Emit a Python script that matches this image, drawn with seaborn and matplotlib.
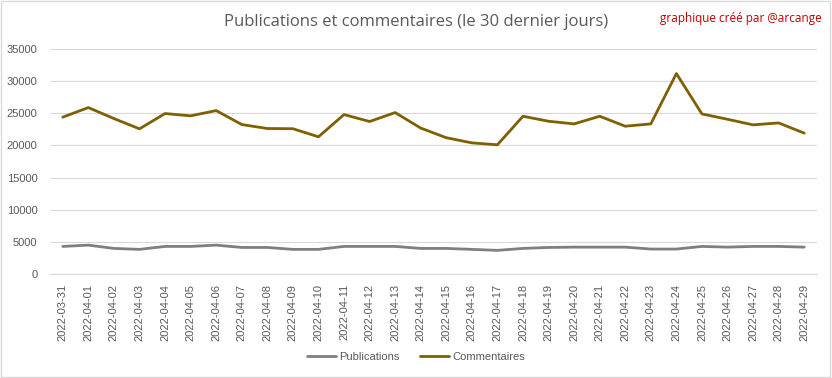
# Publications et commentaires sur 30 jours - line chart
import pandas as pd
import matplotlib.pyplot as plt
import seaborn as sns
from matplotlib.patches import Rectangle

# data
dates = ['2022-03-31', '2022-04-01', '2022-04-02', '2022-04-03', '2022-04-04', '2022-04-05',
         '2022-04-06', '2022-04-07', '2022-04-08', '2022-04-09', '2022-04-10', '2022-04-11',
         '2022-04-12', '2022-04-13', '2022-04-14', '2022-04-15', '2022-04-16', '2022-04-17',
         '2022-04-18', '2022-04-19', '2022-04-20', '2022-04-21', '2022-04-22', '2022-04-23',
         '2022-04-24', '2022-04-25', '2022-04-26', '2022-04-27', '2022-04-28', '2022-04-29']

publications = [4290, 4490, 3980, 3830, 4290, 4290, 4490, 4130, 4130, 3830,
                3830, 4290, 4290, 4290, 3980, 3980, 3830, 3680, 3980, 4130,
                4180, 4180, 4180, 3880, 3880, 4290, 4180, 4290, 4290, 4180]

commentaires = [24400, 25890, 24180, 22580, 24960, 24600, 25420, 23250, 22630, 22600,
                21340, 24800, 23720, 25110, 22700, 21200, 20400, 20100, 24540, 23760,
                23350, 24540, 22990, 23350, 31180, 24900, 24070, 23200, 23500, 21910]

yticks = [0, 5000, 10000, 15000, 20000, 25000, 30000, 35000]

# long format for seaborn
df = pd.DataFrame({'date': dates, 'Publications': publications, 'Commentaires': commentaires})
df_long = df.melt(id_vars='date', var_name='serie', value_name='valeur')

sns.set_style('white')
plt.rcParams['font.family'] = ['Liberation Sans', 'DejaVu Sans']

fig = plt.figure(figsize=(8.32, 3.78), dpi=100)
ax = fig.add_axes([50 / 832, 1 - 274 / 378, 767 / 832, 225 / 378])

sns.lineplot(data=df_long, x='date', y='valeur', hue='serie', sort=False,
             palette={'Publications': '#7f7f7f', 'Commentaires': '#7f6000'},
             linewidth=2, ax=ax, legend=False)

ax.set_xlim(-0.5, len(dates) - 0.5)
ax.set_ylim(0, 35000)
ax.set_yticks(yticks)
ax.set_yticklabels([str(v) for v in yticks])
ax.set_xlabel('')
ax.set_ylabel('')
ax.grid(axis='y', color='#d9d9d9', linewidth=0.8)
ax.set_axisbelow(True)
for s in ['top', 'right', 'left']:
    ax.spines[s].set_visible(False)
ax.spines['bottom'].set_color('#d9d9d9')
ax.spines['bottom'].set_linewidth(0.8)
ax.tick_params(axis='x', labelrotation=90, labelsize=8, colors='#595959', length=0, pad=7)
ax.tick_params(axis='y', labelsize=8, colors='#595959', length=0, pad=9)

# title and signature
fig.text(0.5, 0.942, 'Publications et commentaires (le 30 dernier jours)',
         ha='center', va='center', fontsize=12, color='#595959', family=['Open Sans', 'DejaVu Sans'])
fig.text(822 / 832, 0.952, 'graphique créé par @arcange', ha='right', va='center',
         fontsize=8.5, color='#c00000', family=['Open Sans', 'DejaVu Sans'])

# legend at the bottom
handles = [plt.Line2D([], [], color='#7f7f7f', linewidth=2),
           plt.Line2D([], [], color='#7f6000', linewidth=2)]
fig.legend(handles, ['Publications', 'Commentaires'], loc='center', bbox_to_anchor=(0.5, 1 - 357 / 378),
           ncol=2, frameon=False, fontsize=8, handlelength=2.6, handletextpad=0.3, columnspacing=1.8,
           labelcolor='#595959')

# chart border like the Excel frame
fig.patches.append(Rectangle((0.001, 0.002), 0.997, 0.995, transform=fig.transFigure,
                             fill=False, edgecolor='#d9d9d9', linewidth=1))

fig.savefig('out.png', dpi=100)
